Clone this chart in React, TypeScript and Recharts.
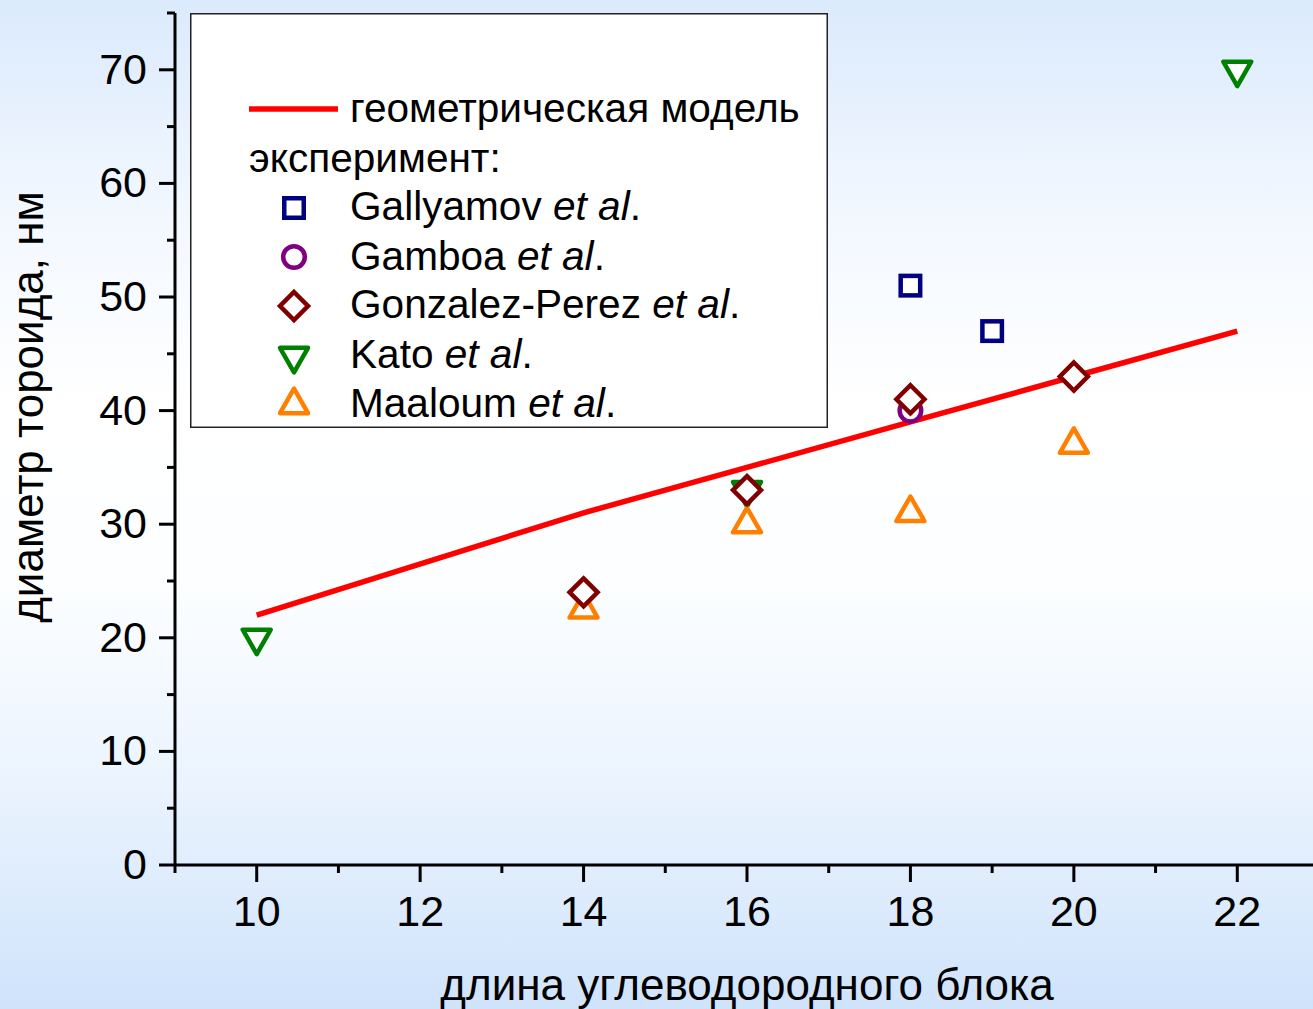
import React from 'react';
import { ComposedChart, Line, Scatter, XAxis, YAxis, Legend } from 'recharts';

const FONT = '"Liberation Sans", Arial, Helvetica, sans-serif';

// ---- data ----
const modelLength = [10, 14, 16, 18, 20, 22];
const modelDiameter = [22, 31, 35, 39, 43, 47];

const gallyamovLength = [18, 19];
const gallyamovDiameter = [51, 47];

const gamboaLength = [18];
const gamboaDiameter = [40];

const gonzalezLength = [14, 16, 18, 20];
const gonzalezDiameter = [24, 33, 41, 43];

const katoLength = [10, 16, 22];
const katoDiameter = [20, 33, 70];

const maaloumLength = [14, 16, 18, 20];
const maaloumDiameter = [22.5, 30, 31, 37];

const xTicks = [9, 10, 11, 12, 13, 14, 15, 16, 17, 18, 19, 20, 21, 22, 23];
const xLabelTicks = [10, 12, 14, 16, 18, 20, 22];
const yTicks = [0, 5, 10, 15, 20, 25, 30, 35, 40, 45, 50, 55, 60, 65, 70, 75];
const yLabelTicks = [0, 10, 20, 30, 40, 50, 60, 70];

const xTitle = 'длина углеводородного блока';
const yTitle = 'диаметр тороида, нм';
const modelName = 'геометрическая модель';
const experimentName = 'эксперимент:';

type Kind = 'square' | 'circle' | 'diamond' | 'down' | 'up';
const seriesInfo: { name: string; kind: Kind; color: string }[] = [
  { name: 'Gallyamov', kind: 'square', color: '#000080' },
  { name: 'Gamboa', kind: 'circle', color: '#800080' },
  { name: 'Gonzalez-Perez', kind: 'diamond', color: '#800000' },
  { name: 'Kato', kind: 'down', color: '#008000' },
  { name: 'Maaloum', kind: 'up', color: '#ff8000' },
];

const toPoints = (xs: number[], ys: number[]) => xs.map((x, i) => ({ x, y: ys[i] }));

const modelData = toPoints(modelLength, modelDiameter);
const gallyamovData = toPoints(gallyamovLength, gallyamovDiameter);
const gamboaData = toPoints(gamboaLength, gamboaDiameter);
const gonzalezData = toPoints(gonzalezLength, gonzalezDiameter);
const katoData = toPoints(katoLength, katoDiameter);
const maaloumData = toPoints(maaloumLength, maaloumDiameter);

function Marker({ kind, color, cx, cy }: { kind: Kind; color: string; cx: number; cy: number }) {
  const sw = 4.5;
  const common = { fill: '#ffffff', stroke: color, strokeWidth: sw };
  if (cx == null || cy == null || isNaN(cx) || isNaN(cy)) return null;
  const hw = 14; // triangle half width
  const th = 24.5; // triangle height
  switch (kind) {
    case 'square':
      return <rect x={cx - 9.75} y={cy - 9.75} width={19.5} height={19.5} {...common} />;
    case 'circle':
      return <circle cx={cx} cy={cy} r={10.8} {...common} />;
    case 'diamond':
      return (
        <path
          d={`M${cx},${cy - 14} L${cx + 14},${cy} L${cx},${cy + 14} L${cx - 14},${cy} Z`}
          {...common}
        />
      );
    case 'down':
      return (
        <path
          d={`M${cx - hw},${cy - th / 3} L${cx + hw},${cy - th / 3} L${cx},${cy + (2 * th) / 3} Z`}
          strokeLinejoin="round"
          {...common}
        />
      );
    case 'up':
    default:
      return (
        <path
          d={`M${cx - hw},${cy + th / 3} L${cx + hw},${cy + th / 3} L${cx},${cy - (2 * th) / 3} Z`}
          strokeLinejoin="round"
          {...common}
        />
      );
  }
}

const shapeFor = (idx: number) => (p: any) =>
  <Marker kind={seriesInfo[idx].kind} color={seriesInfo[idx].color} cx={p.cx} cy={p.cy} />;

function XTick(props: any) {
  const { x, y, payload } = props;
  const v = payload.value;
  const major = xLabelTicks.includes(v);
  return (
    <g>
      <line x1={x} x2={x} y1={y} y2={y + (major ? 17 : 8)} stroke="#000" strokeWidth={3} />
      {major && (
        <text x={x} y={y + 61} textAnchor="middle" fontSize={43} fontFamily={FONT} fill="#000">
          {v}
        </text>
      )}
    </g>
  );
}

function YTick(props: any) {
  const { x, y, payload } = props;
  const v = payload.value;
  const major = yLabelTicks.includes(v);
  return (
    <g>
      <line x1={x - (major ? 16 : 8)} x2={x} y1={y} y2={y} stroke="#000" strokeWidth={3} />
      {major && (
        <text
          x={x - 28}
          y={y + 14}
          textAnchor="end"
          fontSize={43}
          fontFamily={FONT}
          fill="#000"
        >
          {v}
        </text>
      )}
    </g>
  );
}

function XTitle(props: any) {
  const vb = props.viewBox || { x: 175, y: 865, width: 1144, height: 144 };
  return (
    <text
      x={vb.x + vb.width / 2}
      y={vb.y + 135}
      textAnchor="middle"
      fontSize={44}
      fontFamily={FONT}
      fill="#000"
    >
      {xTitle}
    </text>
  );
}

function YTitle() {
  return (
    <text
      transform="translate(43,407) rotate(-90)"
      textAnchor="middle"
      fontSize={44}
      fontFamily={FONT}
      fill="#000"
    >
      {yTitle}
    </text>
  );
}

function LegendBox() {
  const baselines = [207, 257, 305, 355, 404];
  const markerY = [195, 244, 293, 343, 392];
  const fs = 40.6;
  return (
    <svg width={638} height={415} style={{ display: 'block' }}>
      <rect x={0.75} y={0.75} width={636.5} height={413.5} fill="#ffffff" stroke="#222" strokeWidth={1.5} />
      <line x1={59} x2={148} y1={96} y2={96} stroke="#ff0000" strokeWidth={5.5} />
      <text x={160} y={109} fontSize={fs} fontFamily={FONT} fill="#000">
        {modelName}
      </text>
      <text x={59} y={159} fontSize={fs} fontFamily={FONT} fill="#000">
        {experimentName}
      </text>
      {seriesInfo.map((s, i) => (
        <g key={s.name}>
          <Marker kind={s.kind} color={s.color} cx={104} cy={markerY[i]} />
          <text x={160} y={baselines[i]} fontSize={fs} fontFamily={FONT} fill="#000">
            {s.name + ' '}
            <tspan fontStyle="italic">et al</tspan>.
          </text>
        </g>
      ))}
    </svg>
  );
}

export default function App() {
  return (
    <div
      style={{
        position: 'absolute',
        left: 0,
        top: 0,
        width: 1313,
        height: 1009,
        overflow: 'hidden',
        background:
          'linear-gradient(180deg, #dbeafc 0%, #f3f8ff 22%, #ffffff 40%, #fcfeff 58%, #eaf3fe 78%, #cfe3fb 100%)',
        fontFamily: FONT,
      }}
    >
      <ComposedChart
        width={1330}
        height={1009}
        margin={{ top: 13, right: 11, bottom: 0, left: 0 }}
      >
        <XAxis
          type="number"
          dataKey="x"
          domain={[9, 23]}
          ticks={xTicks}
          interval={0}
          allowDataOverflow
          height={144}
          tickSize={0}
          tickMargin={0}
          tickLine={false}
          axisLine={{ stroke: '#000', strokeWidth: 3 }}
          tick={<XTick />}
          label={<XTitle />}
        />
        <YAxis
          type="number"
          dataKey="y"
          domain={[0, 75]}
          ticks={yTicks}
          interval={0}
          allowDataOverflow
          width={175}
          tickSize={0}
          tickMargin={0}
          tickLine={false}
          axisLine={{ stroke: '#000', strokeWidth: 3 }}
          tick={<YTick />}
          label={<YTitle />}
        />
        <Legend
          layout="vertical"
          align="center"
          verticalAlign="middle"
          wrapperStyle={{ left: 190, top: 13, width: 638, height: 415 }}
          content={() => <LegendBox />}
        />
        <Line
          data={modelData}
          dataKey="y"
          type="linear"
          stroke="#ff0000"
          strokeWidth={5.5}
          dot={false}
          activeDot={false}
          isAnimationActive={false}
          legendType="none"
        />
        <Scatter data={gallyamovData} dataKey="y" shape={shapeFor(0)} isAnimationActive={false} />
        <Scatter data={gamboaData} dataKey="y" shape={shapeFor(1)} isAnimationActive={false} />
        <Scatter data={katoData} dataKey="y" shape={shapeFor(3)} isAnimationActive={false} />
        <Scatter data={maaloumData} dataKey="y" shape={shapeFor(4)} isAnimationActive={false} />
        <Scatter data={gonzalezData} dataKey="y" shape={shapeFor(2)} isAnimationActive={false} />
      </ComposedChart>
    </div>
  );
}
